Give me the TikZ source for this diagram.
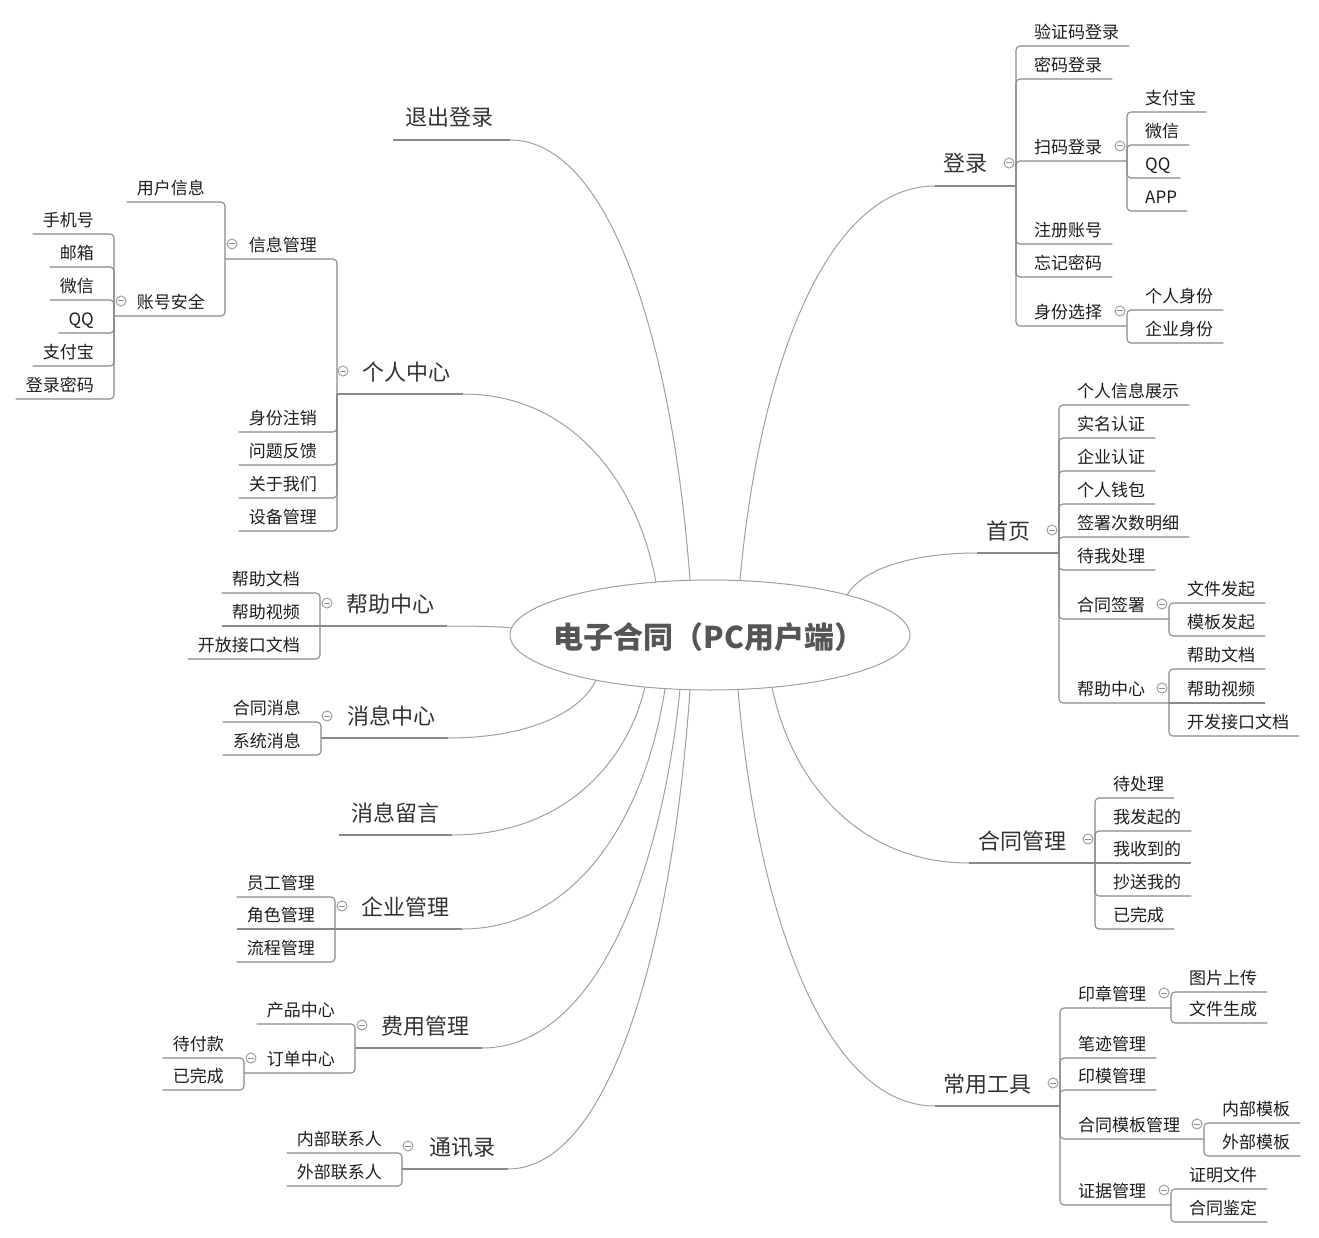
\documentclass[tikz,border=0pt]{standalone}
\usepackage{fontspec}
\setmainfont{Noto Sans CJK SC}
\usetikzlibrary{calc}
\definecolor{linec}{HTML}{8A8A8A}
\definecolor{curvec}{HTML}{A0A0A0}
\definecolor{leafc}{HTML}{1E1E1E}
\definecolor{topicc}{HTML}{333333}
\definecolor{rootc}{HTML}{555555}
\definecolor{circc}{HTML}{A0A0A0}
\definecolor{minusc}{HTML}{8090B0}
\newcommand\leaffont{\fontsize{17pt}{20pt}\selectfont}
\newcommand\topicfont{\fontsize{22pt}{26pt}\selectfont}
\newcommand\rootfont{\fontsize{30pt}{34pt}\selectfont\bfseries}
\tikzset{
  leafr/.style={anchor=south west, inner xsep=10pt, inner ysep=6pt, text height=13pt, text depth=1.5pt, font=\leaffont, text=leafc},
  leafl/.style={leafr, anchor=south east},
  topicr/.style={anchor=base east, inner sep=0pt, font=\topicfont, text=topicc},
  topicl/.style={topicr, anchor=base west},
  branch/.style={draw=linec, line width=1.1pt, rounded corners=4pt},
  curveline/.style={draw=curvec, line width=1pt},
  colcirc/.style={circle, draw=circc, fill=white, line width=1pt, minimum size=10pt, inner sep=0pt,
    path picture={\draw[minusc, line width=1pt] ([xshift=-2.8pt]path picture bounding box.center) -- ([xshift=2.8pt]path picture bounding box.center);}},
}
% name, bracket x, parent y, child y, text
\newcommand\rleaf[5]{\node[leafr] (#1) at (#2+8,#4) {#5}; \draw[branch] (#2,#3) -- (#2,#4) -- (#1.south east);}
\newcommand\lleaf[5]{\node[leafl] (#1) at (#2-10,#4) {#5}; \draw[branch] (#2,#3) -- (#2,#4) -- (#1.south west);}
% name, bracket x, y, text
\newcommand\rmid[4]{\node[leafr] (#1) at (#2+8,#3) {#4}; \draw[branch] (#2,#3) -- (#1.south east);}
\newcommand\lmid[4]{\node[leafl] (#1) at (#2-10,#3) {#4}; \draw[branch] (#2,#3) -- (#1.south west);}
% name, bracket x, parent y, child y, sub bracket x, text
\newcommand\rsub[6]{\node[leafr] (#1) at (#2+8,#4) {#6}; \coordinate (#1j) at (#5,#4); \draw[branch] (#2,#3) -- (#2,#4) -- (#1j); \node[colcirc] (#1c) at (#5-7,#4-15) {};}
\newcommand\lsub[6]{\node[leafl] (#1) at (#2-10,#4) {#6}; \coordinate (#1j) at (#5,#4); \draw[branch] (#2,#3) -- (#2,#4) -- (#1j); \node[colcirc] (#1c) at (#5+7,#4-15) {};}

\begin{document}
\begin{tikzpicture}[x=1pt,y=-1pt]
\fill[white] (0,0) rectangle (1319,1238);
\useasboundingbox (0,0) rectangle (1319,1238);

% ---------- curves from centre ----------
\coordinate (s1) at (740,580);  \coordinate (e1) at (935,186);
\coordinate (s2) at (847,595);  \coordinate (e2) at (977,553);
\coordinate (s3) at (772,687);  \coordinate (e3) at (969,863);
\coordinate (s4) at (738,690);  \coordinate (e4) at (935,1106);
\coordinate (s5) at (690,580);  \coordinate (e5) at (510,140);
\coordinate (s6) at (656,582);  \coordinate (e6) at (463,394);
\coordinate (s7) at (511,628);  \coordinate (e7) at (447,626);
\coordinate (s8) at (596,680);  \coordinate (e8) at (448,738);
\coordinate (s9) at (645,687);  \coordinate (e9) at (452,835);
\coordinate (s10) at (665,689); \coordinate (e10) at (462,929);
\coordinate (s11) at (680,689); \coordinate (e11) at (482,1048);
\coordinate (s12) at (690,690); \coordinate (e12) at (508,1169);
\draw[curveline] (s1) .. controls (759.5,363.3) and (827.8,186) .. (e1);
\draw[curveline] (s2) .. controls (860,571.9) and (905.5,553) .. (e2);
\draw[curveline] (s3) .. controls (791.7,783.8) and (860.7,863) .. (e3);
\draw[curveline] (s4) .. controls (757.7,918.8) and (826.7,1106) .. (e4);
\draw[curveline] (s5) .. controls (672,338) and (609,140) .. (e5);
\draw[curveline] (s6) .. controls (636.7,478.6) and (569.2,394) .. (e6);
\draw[curveline] (s7) .. controls (504.6,626.9) and (482.2,626) .. (e7);
\draw[curveline] (s8) .. controls (581.2,711.9) and (529.4,738) .. (e8);
\draw[curveline] (s9) .. controls (625.7,768.4) and (558.2,835) .. (e9);
\draw[curveline] (s10) .. controls (644.7,821) and (573.7,929) .. (e10);
\draw[curveline] (s11) .. controls (660.2,886.5) and (590.9,1048) .. (e11);
\draw[curveline] (s12) .. controls (671.8,953.5) and (608.1,1169) .. (e12);

% ---------- centre ----------
\draw[draw=curvec, fill=white, line width=1pt] (710,635) ellipse [x radius=200, y radius=55];
\node[font=\rootfont, text=rootc, inner sep=0pt] (root) at (709,637) {电子合同（PC用户端）};

% ---------- 登录 ----------
\node[topicr] (t1) at (988,172) {登录};
\coordinate (b1) at (1016,186);
\draw[branch] (e1) -- (b1);
\node[colcirc] (t1c) at (1009,163) {};
\rleaf{a1}{1016}{186}{46}{验证码登录}
\rleaf{a2}{1016}{186}{79}{密码登录}
\rsub{a3}{1016}{186}{161}{1127}{扫码登录}
\rleaf{a31}{1127}{161}{112}{支付宝}
\rleaf{a32}{1127}{161}{145}{微信}
\rleaf{a33}{1127}{161}{178}{QQ}
\rleaf{a34}{1127}{161}{211}{APP}
\rleaf{a4}{1016}{186}{244}{注册账号}
\rleaf{a5}{1016}{186}{277}{忘记密码}
\rsub{a6}{1016}{186}{326}{1127}{身份选择}
\rleaf{a61}{1127}{326}{310}{个人身份}
\rleaf{a62}{1127}{326}{343}{企业身份}

% ---------- 首页 ----------
\node[topicr] (t2) at (1031,539) {首页};
\coordinate (b2) at (1059,553);
\draw[branch] (e2) -- (b2);
\node[colcirc] (t2c) at (1052,530) {};
\rleaf{b1}{1059}{553}{405}{个人信息展示}
\rleaf{b2}{1059}{553}{438}{实名认证}
\rleaf{b3}{1059}{553}{471}{企业认证}
\rleaf{b4}{1059}{553}{504}{个人钱包}
\rleaf{b5}{1059}{553}{537}{签署次数明细}
\rleaf{b6}{1059}{553}{570}{待我处理}
\rsub{b7}{1059}{553}{619}{1169}{合同签署}
\rleaf{b71}{1169}{619}{603}{文件发起}
\rleaf{b72}{1169}{619}{636}{模板发起}
\rsub{b8}{1059}{553}{703}{1169}{帮助中心}
\rleaf{b81}{1169}{703}{669}{帮助文档}
\rmid{b82}{1169}{703}{帮助视频}
\rleaf{b83}{1169}{703}{736}{开发接口文档}

% ---------- 合同管理 ----------
\node[topicr] (t3) at (1067,849) {合同管理};
\coordinate (b3) at (1095,863);
\draw[branch] (e3) -- (b3);
\node[colcirc] (t3c) at (1088,839) {};
\rleaf{c1}{1095}{863}{798}{待处理}
\rleaf{c2}{1095}{863}{831}{我发起的}
\rmid{c3}{1095}{863}{我收到的}
\rleaf{c4}{1095}{863}{896}{抄送我的}
\rleaf{c5}{1095}{863}{929}{已完成}

% ---------- 常用工具 ----------
\node[topicr] (t4) at (1032,1092) {常用工具};
\coordinate (b4) at (1060,1106);
\draw[branch] (e4) -- (b4);
\node[colcirc] (t4c) at (1053,1083) {};
\rsub{d1}{1060}{1106}{1008}{1171}{印章管理}
\rleaf{d11}{1171}{1008}{992}{图片上传}
\rleaf{d12}{1171}{1008}{1023}{文件生成}
\rleaf{d2}{1060}{1106}{1058}{笔迹管理}
\rleaf{d3}{1060}{1106}{1090}{印模管理}
\rsub{d4}{1060}{1106}{1139}{1204}{合同模板管理}
\rleaf{d41}{1204}{1139}{1123}{内部模板}
\rleaf{d42}{1204}{1139}{1156}{外部模板}
\rsub{d5}{1060}{1106}{1205}{1171}{证据管理}
\rleaf{d51}{1171}{1205}{1189}{证明文件}
\rleaf{d52}{1171}{1205}{1222}{合同鉴定}

% ---------- 退出登录 ----------
\node[topicl] (t5) at (405,126) {退出登录};
\coordinate (u5) at (393,140);
\draw[branch] (u5) -- (e5);

% ---------- 个人中心 ----------
\node[topicl] (t6) at (362,380) {个人中心};
\coordinate (b6) at (337,394);
\draw[branch] (e6) -- (b6);
\node[colcirc] (t6c) at (343,371) {};
\lsub{f1}{337}{394}{259}{225}{信息管理}
\lleaf{f11}{225}{259}{202}{用户信息}
\lsub{f12}{225}{259}{316}{114}{账号安全}
\lleaf{f121}{114}{316}{234}{手机号}
\lleaf{f122}{114}{316}{267}{邮箱}
\lleaf{f123}{114}{316}{300}{微信}
\lleaf{f124}{114}{316}{333}{QQ}
\lleaf{f125}{114}{316}{366}{支付宝}
\lleaf{f126}{114}{316}{399}{登录密码}
\lleaf{f2}{337}{394}{432}{身份注销}
\lleaf{f3}{337}{394}{465}{问题反馈}
\lleaf{f4}{337}{394}{498}{关于我们}
\lleaf{f5}{337}{394}{531}{设备管理}

% ---------- 帮助中心 ----------
\node[topicl] (t7) at (346,612) {帮助中心};
\coordinate (b7) at (320,626);
\draw[branch] (e7) -- (b7);
\node[colcirc] (t7c) at (327,603) {};
\lleaf{g1}{320}{626}{593}{帮助文档}
\lmid{g2}{320}{626}{帮助视频}
\lleaf{g3}{320}{626}{659}{开放接口文档}

% ---------- 消息中心 ----------
\node[topicl] (t8) at (347,724) {消息中心};
\coordinate (b8) at (321,738);
\draw[branch] (e8) -- (b8);
\node[colcirc] (t8c) at (327,716) {};
\lleaf{h1}{321}{738}{722}{合同消息}
\lleaf{h2}{321}{738}{755}{系统消息}

% ---------- 消息留言 ----------
\node[topicl] (t9) at (351,821) {消息留言};
\coordinate (u9) at (339,835);
\draw[branch] (u9) -- (e9);

% ---------- 企业管理 ----------
\node[topicl] (t10) at (361,915) {企业管理};
\coordinate (b10) at (335,929);
\draw[branch] (e10) -- (b10);
\node[colcirc] (t10c) at (342,906) {};
\lleaf{i1}{335}{929}{897}{员工管理}
\lmid{i2}{335}{929}{角色管理}
\lleaf{i3}{335}{929}{962}{流程管理}

% ---------- 费用管理 ----------
\node[topicl] (t11) at (381,1034) {费用管理};
\coordinate (b11) at (355,1048);
\draw[branch] (e11) -- (b11);
\node[colcirc] (t11c) at (362,1025) {};
\lleaf{j1}{355}{1048}{1024}{产品中心}
\lsub{j2}{355}{1048}{1073}{244}{订单中心}
\lleaf{j21}{244}{1073}{1058}{待付款}
\lleaf{j22}{244}{1073}{1090}{已完成}

% ---------- 通讯录 ----------
\node[topicl] (t12) at (429,1155) {通讯录};
\coordinate (b12) at (402,1169);
\draw[branch] (e12) -- (b12);
\node[colcirc] (t12c) at (408,1146) {};
\lleaf{k1}{402}{1169}{1153}{内部联系人}
\lleaf{k2}{402}{1169}{1186}{外部联系人}
\end{tikzpicture}
\end{document}
